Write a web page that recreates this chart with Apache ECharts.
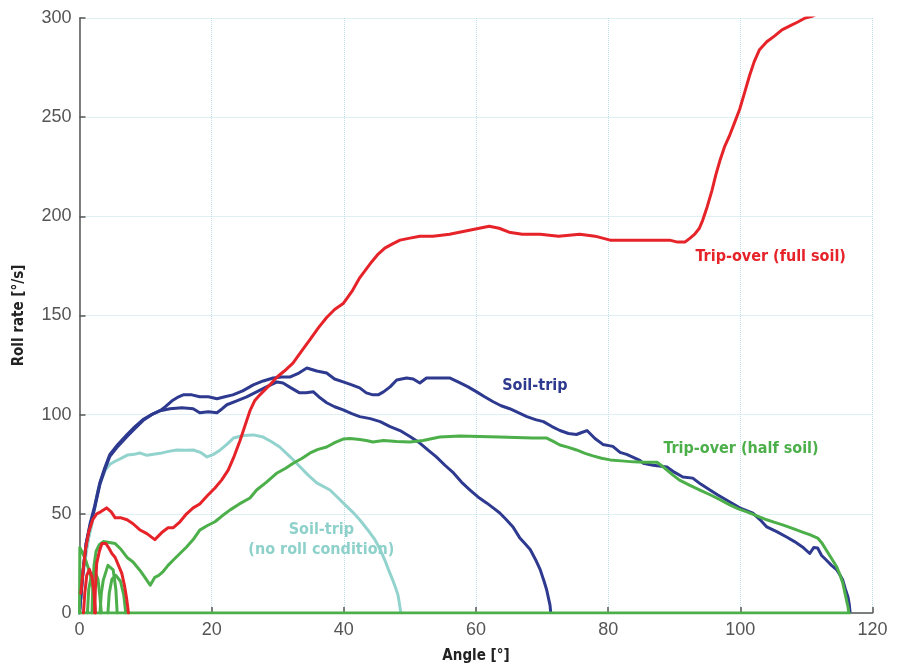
<!DOCTYPE html>
<html>
<head>
<meta charset="utf-8">
<script src="https://cdn.jsdelivr.net/npm/echarts@6/dist/echarts.min.js"></script>
<style>
html,body{margin:0;padding:0;background:#fff;}
#chart{width:899px;height:668px;}
</style>
</head>
<body>
<div id="chart"></div>
<script>
// ---------- data (angle [deg], roll rate [deg/s]) ----------
var xTicks = [0, 20, 40, 60, 80, 100, 120];
var yTicks = [0, 50, 100, 150, 200, 250, 300];

var redMain = [[0.2,10],[0.5,20],[0.9,32],[1.4,41],[2,47],[2.6,50],[3.2,51],[4.1,53],[4.8,51],[5.4,48],[6.3,48],[7.2,47],[8.1,45],[9.1,42],[10.2,40],[11.4,37],[12.6,41],[13.4,43],[14.2,43],[15.2,46],[16.2,50],[17.2,53],[18.2,55],[19.3,59],[20.5,63],[21.5,67],[22.5,72],[23.4,79],[24.3,87],[25.1,95],[25.8,102],[26.5,107],[27.3,110],[28.8,115],[29.9,119],[31,122],[32.3,126],[33.6,132],[34.9,138],[36.2,144],[37.4,149],[38.6,153],[39.9,156],[41.2,162],[42.4,169],[43.3,173],[44.2,177],[45.2,181],[46.2,184],[47.3,186],[48.5,188],[50,189],[51.5,190],[53.5,190],[56,191],[57.5,192],[59,193],[60.5,194],[62,195],[63.5,194],[65,192],[67,191],[69.7,191],[72.5,190],[75.7,191],[78,190],[80.3,188],[82.5,188],[84.8,188],[87,188],[89.3,188],[90.5,187],[91.6,187],[92.4,189],[93.1,191],[93.8,194],[94.3,198],[95,205],[95.7,213],[96.3,221],[96.9,228],[97.6,235],[98.4,241],[99.1,247],[99.9,254],[100.7,263],[101.4,271],[102.1,278],[102.9,284],[104,288],[105.2,291],[106.3,294],[107.5,296],[108.7,298],[109.8,300],[111,301],[112,303]];
var redLoopA = [[2.3,0],[2.4,12],[2.6,25],[3,31],[3.4,35],[3.6,36],[4,35],[4.4,33],[4.9,30],[5.4,28],[5.9,24],[6.4,20],[6.8,14],[7.1,8],[7.3,3],[7.4,0]];
var redLoopB = [[0.6,0],[0.8,10],[1.1,19],[1.5,22],[1.9,18],[2.2,10],[2.4,0]];

var blueLong = [[0,0],[0.5,20],[1,35],[1.6,44],[2.3,53],[3.1,65],[3.8,72],[4.6,79],[5.8,84],[7.2,89],[8.4,93],[9.6,97],[10.9,100],[12.2,102],[13,104],[14,107],[15,109],[15.7,110],[17,110],[18.2,109],[19.5,109],[20.8,108],[22,109],[23.2,110],[24.7,112],[26.3,115],[27.8,117],[29.3,118.5],[30.6,119],[31.9,119],[33.2,121],[34.4,123.5],[35.9,122],[37.4,121],[38.6,118],[39.9,116.5],[41.2,115],[42.4,113.5],[43.4,111],[44.4,110],[45.2,110],[46,111.5],[47,114],[48,117.5],[49.5,118.5],[50.5,118],[51.5,116],[52.5,118.5],[54,118.5],[56,118.5],[57.6,116],[58.8,114],[60.1,111.5],[61.3,109],[62.6,106.5],[63.8,104.5],[65.1,103],[66.4,101],[67.7,99],[69,97.5],[70.2,96.5],[71.5,94],[72.7,92],[74,90.5],[75.2,90],[76,91],[76.8,92],[78,88],[79.2,85],[80.7,84],[81.8,81],[82.8,80],[84.8,77],[85.3,75.5],[86.8,74.5],[88.9,73.6],[90,71],[91.3,68.6],[92.8,68],[94,65],[95.4,62],[96.6,59.5],[97.9,57],[99.9,53],[101.9,50.4],[103,47],[104,43.4],[105.5,41],[107,38.3],[108.2,36],[109.4,33.3],[110.5,30],[111.1,33],[111.7,32.8],[112.3,29],[113,26.7],[113.8,24],[114.6,21.7],[115.1,19],[115.5,16.6],[115.9,12],[116.3,8],[116.5,4],[116.6,0.5]];
var blueShort = [[0,0],[0.5,20],[1,35],[1.6,45],[2.3,54],[3.1,66],[3.8,73],[4.6,80],[5.8,85],[7.2,90],[8.4,94],[9.6,97.5],[10.9,100],[12.2,102],[13.7,103],[15.5,103.5],[17.2,103],[18.2,101],[19.5,101.5],[20.8,101],[21.6,103],[22.3,105],[23.8,107],[25.3,109],[26.8,111.5],[28.3,114],[29.9,116.5],[30.8,116],[32,113.5],[33.3,111],[34.3,111],[35.4,111.5],[36.4,108.5],[37.4,106],[38.6,104],[39.9,102.4],[41.2,100.5],[42.4,99],[44,98],[45.5,96.5],[47,94],[48.5,92],[50,89],[51.5,85.7],[52.8,82],[54,78.7],[55.3,74.5],[56.6,70.6],[57.8,66],[59.1,62],[60.3,58.5],[61.6,55.5],[62.6,53],[63.6,50.4],[64.6,47],[65.6,43.4],[66.6,38],[67.4,35],[68.2,32],[69,27],[69.7,22],[70.3,16],[70.7,11.6],[71,7],[71.2,4],[71.3,0.5]];

var lightBlue = [[0,0],[0.5,18],[1,30],[1.4,38],[1.9,45],[2.4,55],[2.8,62],[3.3,67],[3.9,72],[4.6,75],[5.4,76.5],[6.3,78],[7.3,79.7],[8.3,80],[9.1,80.7],[10.2,79.5],[11.2,80],[12.2,80.5],[13.5,81.5],[14.7,82.2],[16,82],[17.2,82.2],[18.3,81],[19.3,78.7],[20.3,80],[21.3,82.2],[22.3,85],[23.3,88.2],[24.8,89.5],[26.3,89.8],[27.8,88.7],[29,86.5],[30.3,83.7],[31.8,79],[33.4,73.6],[34.6,69.5],[35.9,65.6],[37.9,62],[39,58.5],[40.2,54.5],[41.3,51],[42.4,47],[43.6,42],[44.7,37],[45.5,32],[46.2,26.7],[46.8,21.5],[47.4,16.6],[47.8,13],[48.2,9],[48.4,5],[48.6,0.5]];

var greenMain = [[1.9,0],[2.0,12],[2.2,24],[2.5,31],[3,34.5],[3.6,36],[4.5,35.5],[5.4,35],[6.3,32],[7.2,28],[8.1,25.7],[9.1,21.7],[9.9,18],[10.7,14],[11.4,18],[12,19],[12.6,20.7],[13.4,24],[14.2,26.7],[15.2,30],[16.2,33.3],[17.2,37],[18.2,41.8],[19.3,44],[20.5,46],[21.6,49],[22.8,52],[24.2,55],[25.8,58],[26.8,62],[28.3,66],[29.9,70.6],[31.2,73],[32.4,75.6],[33.7,78],[34.9,80.7],[36.1,82.5],[37.4,83.7],[38.7,86],[39.9,87.7],[41,88],[42.4,87.5],[43.4,87],[44.4,86.2],[46,87],[48,86.5],[50,86.2],[52,87],[54.5,88.7],[57.6,89.2],[60.5,89],[63.6,88.7],[66,88.5],[68.6,88.2],[70.7,88.2],[71.7,86.5],[72.7,84.7],[74,83.5],[75.2,82.2],[76.5,80.5],[77.7,79.2],[79,78],[80.3,77.2],[82,76.7],[83.8,76.2],[85.5,76],[87.4,76],[88.2,74],[88.9,72],[89.8,69.5],[90.8,67],[92.3,64.5],[93.9,62],[95.5,59.5],[97,57],[98.4,54.5],[99.7,52.5],[101,51],[102.5,49],[104,47],[105.2,45.7],[106.4,44.4],[108,42.5],[109.4,40.8],[110.5,39.5],[111.7,37.8],[112.4,35],[113,31.8],[113.8,27.5],[114.6,23.2],[115.1,19],[115.5,15.1],[115.9,9],[116.3,3],[116.4,0.5]];
var greenLoopA = [[0,0],[0.05,33],[0.5,30],[1,26],[1.5,21],[1.9,16],[2.2,9],[2.4,0]];
var greenLoopB = [[1.2,0],[1.4,12],[1.8,19],[2.3,21],[2.8,17],[3.1,8],[3.3,0]];
var greenLoopC = [[3.1,0],[3.3,10],[3.6,16.6],[4.3,24],[5.1,21.7],[5.5,12],[5.7,0]];
var greenLoopD = [[4.3,0],[4.5,10],[4.9,17],[5.5,19],[6.2,16],[6.7,9],[7,0]];
var greenBase = [[0,0],[116.5,0]];

// annotation texts and their anchor points in data units
var labelTexts = ['Trip-over (full soil)', 'Soil-trip', 'Trip-over (half soil)', 'Soil-trip', '(no roll condition)'];
var labelPoints = [[104.6,179.5],[68.9,114.5],[100.1,82.7],[36.6,42.0],[36.6,32.0]];
var labelColors = ['#e52329', '#2e3a8f', '#4caf4a', '#8ed1cb', '#8ed1cb'];

// ---------- chart ----------
var RED = '#e52329', BLUE = '#2e3a8f', GREEN = '#4caf4a', LBLUE = '#93d3ce';
var narrow = "'Liberation Sans Narrow', 'DejaVu Sans Condensed', 'Liberation Sans', sans-serif";

function line(data, color, z) {
  return {
    type: 'line', data: data, showSymbol: false, symbol: 'none',
    lineStyle: { color: color, width: 3, join: 'round', cap: 'round' },
    z: z, animation: false, silent: true
  };
}

var chart = echarts.init(document.getElementById('chart'), null, { renderer: 'canvas' });
chart.setOption({
  backgroundColor: '#fff',
  animation: false,
  grid: { left: 79.5, right: 26.5, top: 18, bottom: 55, containLabel: false, outerBoundsMode: 'none' },
  xAxis: {
    type: 'value', min: xTicks[0], max: xTicks[xTicks.length - 1], interval: 20,
    name: 'Angle [°]', nameLocation: 'middle', nameGap: 36,
    nameTextStyle: { fontFamily: narrow, fontWeight: 'bold', fontSize: 15, color: '#222' },
    axisLine: { show: true, onZero: false, lineStyle: { color: '#555', width: 1.5 } },
    axisTick: { show: true, inside: true, length: 6, lineStyle: { color: '#555', width: 1.5 } },
    axisLabel: { fontFamily: "'Liberation Sans', sans-serif", fontSize: 18, color: '#555', margin: 8 },
    splitLine: { show: true, lineStyle: { color: '#bfe0ea', type: 'dotted', width: 1 } }
  },
  yAxis: {
    type: 'value', min: yTicks[0], max: yTicks[yTicks.length - 1], interval: 50,
    name: 'Roll rate [°/s]', nameLocation: 'middle', nameGap: 53, nameRotate: 90,
    nameTextStyle: { fontFamily: narrow, fontWeight: 'bold', fontSize: 15, color: '#222' },
    axisLine: { show: true, onZero: false, lineStyle: { color: '#555', width: 1.5 } },
    axisTick: { show: true, inside: true, length: 6, lineStyle: { color: '#555', width: 1.5 } },
    axisLabel: { fontFamily: "'Liberation Sans', sans-serif", fontSize: 18, color: '#555', margin: 8 },
    splitLine: { show: true, lineStyle: { color: '#bfe0ea', type: 'dotted', width: 1 } }
  },
  series: [
    line(lightBlue, LBLUE, 2),
    line(blueShort, BLUE, 3),
    line(blueLong, BLUE, 3),
    line(greenBase, GREEN, 4),
    line(greenMain, GREEN, 4),
    line(greenLoopA, GREEN, 4),
    line(greenLoopB, GREEN, 4),
    line(greenLoopC, GREEN, 4),
    line(greenLoopD, GREEN, 4),
    line(redLoopB, RED, 5),
    line(redLoopA, RED, 5),
    line(redMain, RED, 6)
  ]
});

var graphics = labelTexts.map(function (t, i) {
  var p = chart.convertToPixel({ gridIndex: 0 }, labelPoints[i]);
  return {
    type: 'text', x: p[0], y: p[1], z: 100,
    style: {
      text: t, fill: labelColors[i], font: 'bold 16px ' + narrow,
      textAlign: 'center', textVerticalAlign: 'middle'
    }
  };
});
chart.setOption({ graphic: graphics });
</script>
</body>
</html>
